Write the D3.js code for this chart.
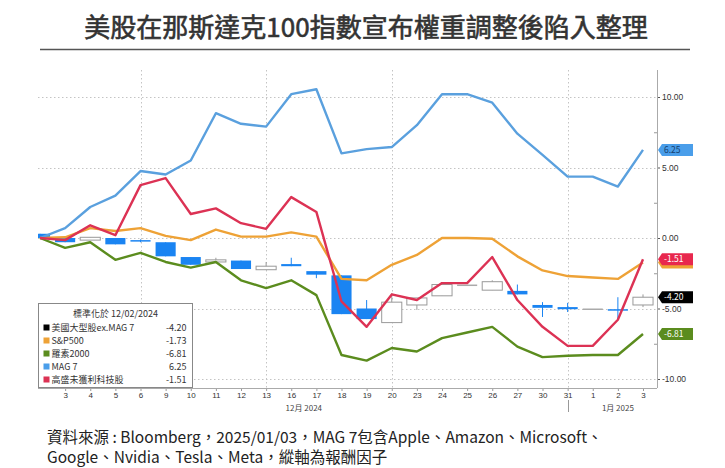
<!DOCTYPE html>
<html>
<head>
<meta charset="utf-8">
<script src="https://cdn.jsdelivr.net/npm/d3@7"></script>
<style>
  body { margin: 0; background: #fff; }
  svg { display: block; font-family: "Noto Sans CJK TC", "Noto Sans", sans-serif; }
</style>
</head>
<body>
<div id="chart"></div>
<script>
// 交易日 (12/02 為標準化基準日)
var dates = ["2024-12-02","2024-12-03","2024-12-04","2024-12-05","2024-12-06","2024-12-09","2024-12-10",
  "2024-12-11","2024-12-12","2024-12-13","2024-12-16","2024-12-17","2024-12-18","2024-12-19","2024-12-20",
  "2024-12-23","2024-12-24","2024-12-25","2024-12-26","2024-12-27","2024-12-30","2024-12-31",
  "2025-01-01","2025-01-02","2025-01-03"]

var mag7  = [0, 0.7, 2.2, 3.0, 4.75, 4.5, 5.5, 8.85, 8.1, 7.9, 10.2, 10.55, 6.0, 6.3, 6.45, 8.0, 10.2, 10.2, 9.6, 7.4, 5.9, 4.35, 4.35, 3.65, 6.25]
var sp500 = [0, 0.05, 0.7, 0.5, 0.7, 0.15, -0.15, 0.6, 0.1, 0.1, 0.4, 0.1, -2.9, -3.0, -1.9, -1.2, 0, 0, -0.05, -1.3, -2.3, -2.7, -2.8, -2.9, -1.73]
var russell = [0, -0.7, -0.3, -1.55, -1.05, -1.7, -2.1, -1.7, -3.0, -3.55, -3.0, -4.05, -8.3, -8.7, -7.8, -8.05, -7.1, -6.7, -6.3, -7.7, -8.45, -8.35, -8.3, -8.3, -6.81]
var gsTech = [0, -0.15, 0.9, 0.2, 3.75, 4.25, 1.7, 2.1, 1.05, 0.65, 2.9, 1.85, -4.5, -6.3, -4.0, -4.4, -3.2, -3.2, -1.35, -4.4, -6.3, -7.65, -7.65, -5.8, -1.51]

// 美國大型股ex.MAG 7 K線: 開 / 收 / 高 / 低
var exOpen  = [0.3, 0, -0.15, 0, -0.15, -0.3, -1.35, -1.7, -1.6, -2.25, -1.85, -2.35, -2.65, -5.0, -6.0, -4.75, -4.1, -3.3, -3.7, -3.75, -4.75, -4.9, -5.0, -5.05, -4.75]
var exClose = [0, -0.3, 0.05, -0.45, -0.25, -1.3, -1.9, -1.55, -2.2, -2.0, -2.0, -2.6, -5.4, -5.75, -4.55, -4.25, -3.3, -3.3, -3.1, -4.0, -4.95, -5.05, -5.0, -5.15, -4.2]
var exHigh  = [0.3, 0, 0.05, 0, -0.1, -0.3, -1.35, -1.4, -1.6, -1.7, -1.4, -2.35, -2.65, -4.4, -3.9, -4.25, -3.3, -3.3, -3.0, -3.3, -4.55, -4.6, -5.0, -4.2, -4.0]
var exLow   = [0, -0.3, -0.15, -0.45, -0.3, -1.3, -1.9, -1.7, -2.2, -2.25, -2.0, -2.85, -5.4, -5.75, -6.0, -5.1, -4.1, -3.3, -3.7, -4.0, -5.6, -5.25, -5.0, -5.8, -4.9]

var yTicks = [-10, -5, 0, 5, 10]
var gridDates = ["2024-12-06", "2024-12-13", "2024-12-20", "2024-12-31"]
var months = [
  {label: "12月 2024", from: "2024-12-02", to: "2024-12-31"},
  {label: "1月 2025", from: "2025-01-01", to: "2025-01-03"}
]

var series = [
  {name: "S&P500", values: sp500, color: "#eea236"},
  {name: "羅素2000", values: russell, color: "#5b8c1e"},
  {name: "MAG 7", values: mag7, color: "#5aa0de"},
  {name: "高盛未獲利科技股", values: gsTech, color: "#dc3254"}
]

var width = 725, height = 468
var plotLeft = 38, plotRight = 657, plotTop = 70, plotBottom = 388

var svg = d3.select("#chart").append("svg")
  .attr("width", width)
  .attr("height", height)

// 標題
svg.append("text")
  .attr("x", 366).attr("y", 37)
  .attr("text-anchor", "middle")
  .attr("font-size", 26)
  .attr("fill", "#333")
  .attr("stroke", "#333")
  .attr("stroke-width", 0.6)
  .text("美股在那斯達克100指數宣布權重調整後陷入整理")
svg.append("line")
  .attr("x1", 40).attr("x2", 690)
  .attr("y1", 49.5).attr("y2", 49.5)
  .attr("stroke", "#555").attr("stroke-width", 1.5)

var x = d3.scalePoint().domain(dates).range([40, 643])
var y = d3.scaleLinear().domain([-10, 10]).range([379, 97])

svg.append("clipPath").attr("id", "plot-clip")
  .append("rect")
  .attr("x", plotLeft).attr("y", plotTop)
  .attr("width", plotRight - plotLeft).attr("height", plotBottom - plotTop)

// 格線
var grid = svg.append("g").attr("stroke", "#c4c4c4").attr("stroke-dasharray", "1.5,2.5")
grid.selectAll(".hgrid").data(yTicks).enter().append("line")
  .attr("x1", plotLeft).attr("x2", plotRight)
  .attr("y1", d => Math.round(y(d)) + 0.5).attr("y2", d => Math.round(y(d)) + 0.5)
grid.selectAll(".vgrid").data(gridDates).enter().append("line")
  .attr("x1", d => Math.round(x(d)) + 0.5).attr("x2", d => Math.round(x(d)) + 0.5)
  .attr("y1", plotTop).attr("y2", plotBottom)

var plot = svg.append("g").attr("clip-path", "url(#plot-clip)")

// K線
var candles = dates.map(function(d, i) {
  return {date: d, o: exOpen[i], c: exClose[i], h: exHigh[i], l: exLow[i]}
})
var candleW = x.step() * 0.8
function candleColor(d) {
  if (d.c > d.o) return "#999"
  if (d.c < d.o) return "#1a84f2"
  return "#aaa"
}
plot.selectAll(".wick").data(candles).enter().append("line")
  .attr("x1", d => x(d.date)).attr("x2", d => x(d.date))
  .attr("y1", d => y(d.h)).attr("y2", d => y(d.l))
  .attr("stroke", candleColor)
  .attr("stroke-width", 1)
plot.selectAll(".body").data(candles).enter().append("rect")
  .attr("x", d => x(d.date) - candleW / 2)
  .attr("width", candleW)
  .attr("y", d => y(Math.max(d.o, d.c)))
  .attr("height", d => Math.max(1.5, Math.abs(y(d.o) - y(d.c))))
  .attr("fill", d => d.c > d.o ? "#fff" : candleColor(d))
  .attr("stroke", d => d.c > d.o ? "#999" : "none")
  .attr("stroke-width", 1)

// 折線
var line = d3.line()
  .x((d, i) => x(dates[i]))
  .y(d => y(d))
plot.selectAll(".series").data(series).enter().append("path")
  .attr("fill", "none")
  .attr("stroke", d => d.color)
  .attr("stroke-width", 2.4)
  .attr("stroke-linejoin", "round")
  .attr("d", d => line(d.values))

// 右側座標軸
var yAxis = svg.append("g")
  .attr("transform", "translate(" + plotRight + ",0)")
  .call(d3.axisRight(y).tickValues(yTicks).tickSize(3).tickFormat(d => d.toFixed(2)))
yAxis.select(".domain").remove()
yAxis.selectAll("text").attr("font-size", 8.5).attr("fill", "#333").attr("x", 5)
yAxis.selectAll("line").attr("stroke", "#555")
svg.append("g")
  .attr("transform", "translate(" + plotRight + ",0)")
  .call(d3.axisLeft(y).tickValues([-7.5, -2.5, 2.5, 7.5]).tickSize(3).tickFormat(""))
  .call(g => g.select(".domain").remove())
  .selectAll("line").attr("stroke", "#999")
svg.append("line")
  .attr("x1", plotRight + 0.5).attr("x2", plotRight + 0.5)
  .attr("y1", plotTop).attr("y2", plotBottom)
  .attr("stroke", "#aaa")

// 底部座標軸
var xAxis = svg.append("g")
  .attr("transform", "translate(0," + plotBottom + ")")
  .call(d3.axisBottom(x).tickValues(dates.slice(1)).tickSize(3).tickFormat(d => +d.slice(8)))
xAxis.select(".domain").remove()
xAxis.selectAll("text").attr("font-size", 8).attr("fill", "#333").attr("y", 4).attr("dy", "0.71em")
xAxis.selectAll("line").attr("stroke", "#999")
svg.append("line")
  .attr("x1", plotLeft).attr("x2", plotRight)
  .attr("y1", plotBottom + 0.5).attr("y2", plotBottom + 0.5)
  .attr("stroke", "#aaa")

svg.selectAll(".month").data(months).enter().append("text")
  .attr("x", d => (x(d.from) + x(d.to)) / 2)
  .attr("y", 411)
  .attr("text-anchor", "middle")
  .attr("font-size", 8)
  .attr("fill", "#444")
  .text(d => d.label)
svg.append("line")
  .attr("x1", Math.round(x("2024-12-31")) + 0.5).attr("x2", Math.round(x("2024-12-31")) + 0.5)
  .attr("y1", 400).attr("y2", 412)
  .attr("stroke", "#999")

// 右側最新值標籤 (S&P500 的標籤被高盛蓋住, 只露出底邊)
var tags = [
  {value: sp500[sp500.length - 1], color: "#eea236", text: null},
  {value: gsTech[gsTech.length - 1], color: "#e8284e", text: "#fff"},
  {value: exClose[exClose.length - 1], color: "#000", text: "#fff"},
  {value: russell[russell.length - 1], color: "#5b8c1e", text: "#fff"},
  {value: mag7[mag7.length - 1], color: "#4a9eea", text: "#163e6e"}
]
var tag = svg.selectAll(".tag").data(tags).enter().append("g")
  .attr("transform", d => "translate(" + (plotRight + 1) + "," + y(d.value) + ")")
tag.append("path")
  .attr("d", "M0,0L4,-6H35V6H4Z")
  .attr("fill", d => d.color)
tag.filter(d => d.text).append("text")
  .attr("x", 6).attr("dy", "0.35em")
  .attr("font-size", 8.5)
  .attr("fill", d => d.text)
  .text(d => d.value.toFixed(2))

// 圖例
var legendItems = [
  {name: "美國大型股ex.MAG 7", value: exClose[exClose.length - 1], color: "#000"},
  {name: "S&P500", value: sp500[sp500.length - 1], color: "#eea236"},
  {name: "羅素2000", value: russell[russell.length - 1], color: "#5b8c1e"},
  {name: "MAG 7", value: mag7[mag7.length - 1], color: "#4a9eea"},
  {name: "高盛未獲利科技股", value: gsTech[gsTech.length - 1], color: "#dc3254"}
]
var legend = svg.append("g").attr("transform", "translate(38.5,303.5)")
legend.append("rect")
  .attr("width", 154).attr("height", 84)
  .attr("fill", "#fff").attr("stroke", "#888")
legend.append("text")
  .attr("x", 77).attr("y", 10.5)
  .attr("dy", "0.35em")
  .attr("text-anchor", "middle")
  .attr("font-size", 9)
  .attr("fill", "#333")
  .text("標準化於 12/02/2024")
var row = legend.selectAll(".row").data(legendItems).enter().append("g")
  .attr("transform", (d, i) => "translate(0," + (24 + i * 13) + ")")
row.append("rect")
  .attr("x", 5).attr("y", -3).attr("width", 6).attr("height", 6)
  .attr("fill", d => d.color)
row.append("text")
  .attr("x", 13).attr("dy", "0.35em")
  .attr("font-size", 9).attr("fill", "#333")
  .text(d => d.name)
row.append("text")
  .attr("x", 148).attr("dy", "0.35em")
  .attr("text-anchor", "end")
  .attr("font-size", 9).attr("fill", "#333")
  .text(d => d.value.toFixed(2))

// 資料來源
var source = ["資料來源 : Bloomberg，2025/01/03，MAG 7包含Apple、Amazon、Microsoft、",
  "Google、Nvidia、Tesla、Meta，縱軸為報酬因子"]
svg.selectAll(".source").data(source).enter().append("text")
  .attr("x", 47)
  .attr("y", (d, i) => 443 + i * 20)
  .attr("font-size", 15.5)
  .attr("fill", "#222")
  .text(d => d)
</script>
</body>
</html>
